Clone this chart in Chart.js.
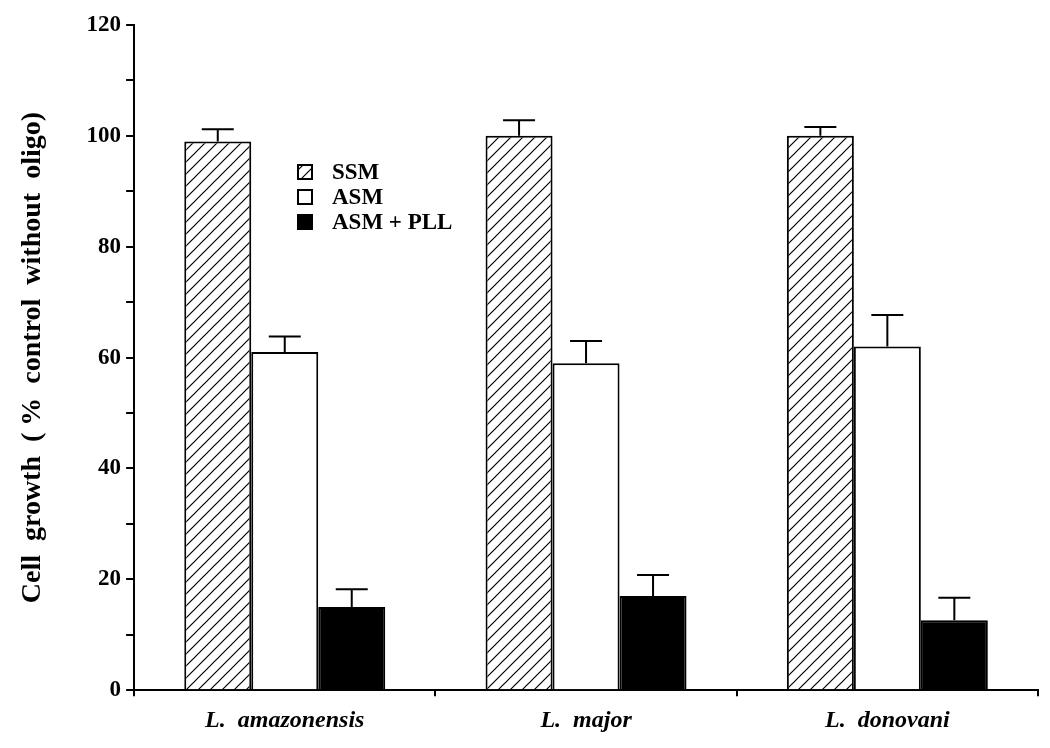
<!DOCTYPE html>
<html>
<head>
<meta charset="utf-8">
<script src="https://cdn.jsdelivr.net/npm/chart.js@4/dist/chart.umd.min.js"></script>
<style>
  body { margin: 0; background: #fff; }
</style>
</head>
<body>
<canvas id="grafico" width="1050" height="748"></canvas>
<script>
// datos
var especies = ['L.  amazonensis', 'L.  major', 'L.  donovani'];
var ssm = [99, 100, 100];
var ssmErr = [101.2, 102.8, 101.6];
var asm = [61, 59, 62];
var asmErr = [63.8, 63, 67.7];
var asmPll = [15, 17, 12.6];
var asmPllErr = [18.2, 20.8, 16.7];
var yTicks = [0, 20, 40, 60, 80, 100, 120];

var fuente = "'Liberation Serif', 'Times New Roman', serif";

// patron de rayas diagonales para SSM
function crearRayado() {
  var c = document.createElement('canvas');
  c.width = 12; c.height = 12;
  var x = c.getContext('2d');
  x.fillStyle = '#fff';
  x.fillRect(0, 0, 12, 12);
  x.strokeStyle = '#000';
  x.lineWidth = 1.2;
  x.beginPath();
  x.moveTo(-1, 13); x.lineTo(13, -1);
  x.moveTo(-1, 1); x.lineTo(1, -1);
  x.moveTo(11, 13); x.lineTo(13, 11);
  x.stroke();
  return x.createPattern(c, 'repeat');
}
var ctx = document.getElementById('grafico').getContext('2d');
var rayado = crearRayado();

var errores = [ssmErr, asmErr, asmPllErr];

// barras de error hacia arriba
var pluginErrores = {
  id: 'errores',
  afterDatasetsDraw: function(chart) {
    var c = chart.ctx;
    var y = chart.scales.y;
    c.save();
    c.strokeStyle = '#000';
    c.lineWidth = 2;
    chart.data.datasets.forEach(function(ds, i) {
      var meta = chart.getDatasetMeta(i);
      meta.data.forEach(function(bar, j) {
        var top = y.getPixelForValue(errores[i][j]);
        c.beginPath();
        c.moveTo(bar.x, bar.y);
        c.lineTo(bar.x, top);
        c.moveTo(bar.x - 16, top);
        c.lineTo(bar.x + 16, top);
        c.stroke();
      });
    });
    c.restore();
  }
};

// leyenda dentro del area del grafico
var pluginLeyenda = {
  id: 'leyendaInterna',
  afterDraw: function(chart) {
    var c = chart.ctx;
    c.save();
    c.font = 'bold 23px ' + fuente;
    c.textBaseline = 'middle';
    chart.data.datasets.forEach(function(ds, i) {
      var yc = 172 + i * 25;
      c.fillStyle = ds.backgroundColor;
      c.fillRect(298, yc - 7, 14, 14);
      c.strokeStyle = '#000';
      c.lineWidth = 2;
      c.strokeRect(298, yc - 7, 14, 14);
      c.fillStyle = '#000';
      c.fillText(ds.label, 332, yc + 1);
    });
    c.restore();
  }
};

new Chart(ctx, {
  type: 'bar',
  data: {
    labels: especies,
    datasets: [
      { label: 'SSM', data: ssm, backgroundColor: rayado, borderColor: '#000', borderWidth: 2 },
      { label: 'ASM', data: asm, backgroundColor: '#fff', borderColor: '#000', borderWidth: 2 },
      { label: 'ASM + PLL', data: asmPll, backgroundColor: '#000', borderColor: '#000', borderWidth: 2 }
    ]
  },
  options: {
    responsive: false,
    animation: false,
    layout: { padding: { left: 16, top: 25, right: 12, bottom: 3 } },
    plugins: {
      legend: { display: false },
      tooltip: { enabled: false }
    },
    datasets: {
      bar: { categoryPercentage: 0.667, barPercentage: 1.0 }
    },
    scales: {
      x: {
        offset: true,
        grid: { display: true, drawOnChartArea: false, offset: true, tickLength: 6, color: '#000', lineWidth: 2 },
        border: { color: '#000', width: 2 },
        ticks: { color: '#000', font: { family: fuente, size: 24, weight: 'bold', style: 'italic' }, padding: 10 }
      },
      y: {
        min: 0,
        max: 120,
        grid: { drawOnChartArea: false, tickLength: 8, color: '#000', lineWidth: 2 },
        border: { color: '#000', width: 2 },
        ticks: {
          stepSize: 10,
          color: '#000',
          padding: 5,
          font: { family: fuente, size: 23, weight: 'bold' },
          callback: function(v) { return yTicks.indexOf(v) >= 0 ? String(v) : ''; }
        },
        title: {
          display: true,
          text: 'Cell  growth  ( %  control  without  oligo)',
          color: '#000',
          font: { family: fuente, size: 28, weight: 'bold' },
          padding: { top: 0, bottom: 32 }
        }
      }
    }
  },
  plugins: [pluginErrores, pluginLeyenda]
});
</script>
</body>
</html>
